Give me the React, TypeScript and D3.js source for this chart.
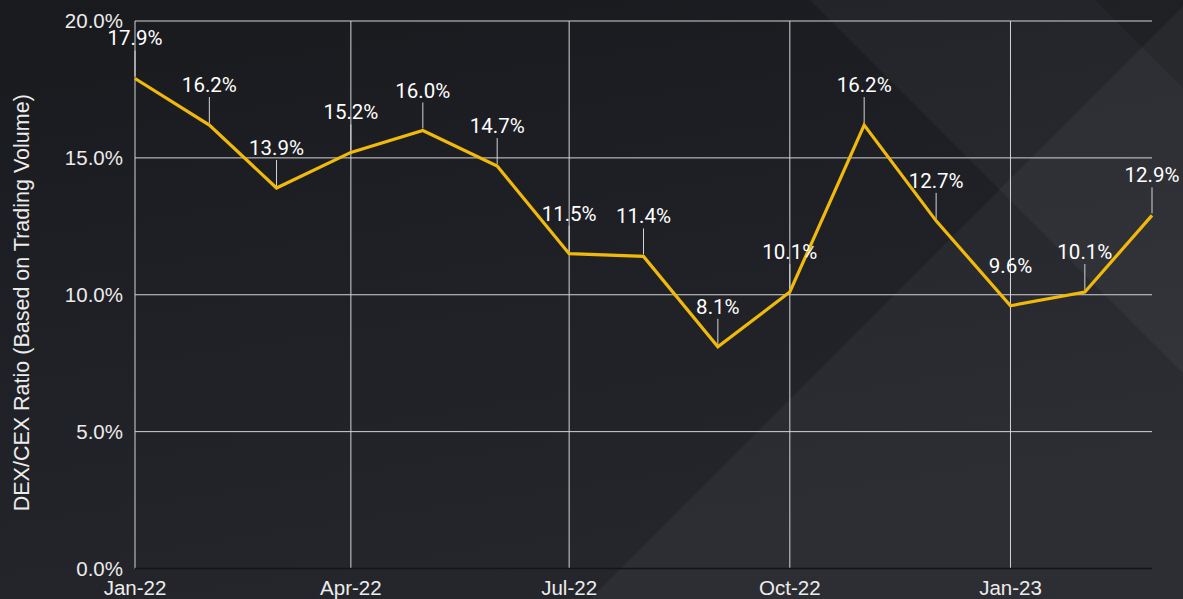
import { useEffect, useRef } from 'react';
import * as d3 from 'd3';

const months = [
  '2022-01', '2022-02', '2022-03', '2022-04', '2022-05', '2022-06', '2022-07', '2022-08',
  '2022-09', '2022-10', '2022-11', '2022-12', '2023-01', '2023-02', '2023-03',
];
const ratios = [17.9, 16.2, 13.9, 15.2, 16.0, 14.7, 11.5, 11.4, 8.1, 10.1, 16.2, 12.7, 9.6, 10.1, 12.9];
const yTicks = [0, 5, 10, 15, 20];
const yTitle = 'DEX/CEX Ratio (Based on Trading Volume)';

const W = 1183;
const H = 599;

const App = () => {
  const ref = useRef<SVGSVGElement>(null);

  useEffect(() => {
    const svg = d3.select(ref.current);
    svg.selectAll('*').remove();

    const parse = d3.timeParse('%Y-%m');
    const data = months.map((m, i) => ({ date: parse(m) as Date, value: ratios[i] }));

    const margin = { top: 21, right: 31, bottom: 30.5, left: 135 };
    const x = d3.scaleTime()
      .domain(d3.extent(data, d => d.date) as [Date, Date])
      .range([margin.left, W - margin.right]);
    const y = d3.scaleLinear()
      .domain([0, 20])
      .range([H - margin.bottom, margin.top]);

    // background
    const defs = svg.append('defs');
    const grad = defs.append('linearGradient')
      .attr('id', 'bg')
      .attr('x1', 0).attr('y1', 0).attr('x2', 0.3).attr('y2', 1);
    grad.append('stop').attr('offset', '0%').attr('stop-color', '#191a1e');
    grad.append('stop').attr('offset', '100%').attr('stop-color', '#24262c');
    svg.append('rect').attr('width', W).attr('height', H).attr('fill', 'url(#bg)');

    const shapes = [
      { pts: [[810, 0], [W, 0], [W, 373]], fill: '#ffffff', op: 0.04 },
      { pts: [[1095, 0], [W, 0], [W, 88]], fill: '#000000', op: 0.12 },
      { pts: [[590, H], [W, 6], [W, H]], fill: '#ffffff', op: 0.04 },
    ];
    svg.append('g')
      .selectAll('polygon')
      .data(shapes)
      .enter().append('polygon')
      .attr('points', d => d.pts.map(p => p.join(',')).join(' '))
      .attr('fill', d => d.fill)
      .attr('opacity', d => d.op);

    // horizontal grid
    svg.append('g')
      .selectAll('line')
      .data(yTicks.filter(t => t > 0))
      .enter().append('line')
      .attr('x1', margin.left)
      .attr('x2', W - margin.right)
      .attr('y1', d => y(d))
      .attr('y2', d => y(d))
      .attr('stroke', '#d4d4d4')
      .attr('stroke-width', 1);

    // vertical grid (quarterly)
    const qTicks = x.ticks(d3.timeMonth.every(3) as d3.TimeInterval);
    svg.append('g')
      .selectAll('line')
      .data(qTicks)
      .enter().append('line')
      .attr('x1', d => x(d))
      .attr('x2', d => x(d))
      .attr('y1', y(20))
      .attr('y2', y(0))
      .attr('stroke', '#d4d4d4')
      .attr('stroke-width', 1);

    // x axis baseline
    svg.append('line')
      .attr('x1', margin.left)
      .attr('x2', W - margin.right)
      .attr('y1', y(0))
      .attr('y2', y(0))
      .attr('stroke', '#151517')
      .attr('stroke-width', 1.5);

    // y tick labels
    svg.append('g')
      .selectAll('text')
      .data(yTicks)
      .enter().append('text')
      .attr('x', 123)
      .attr('y', d => y(d))
      .attr('dy', '0.35em')
      .attr('text-anchor', 'end')
      .attr('font-family', 'Liberation Sans, Arial, sans-serif')
      .attr('font-size', 20.5)
      .attr('fill', '#ececec')
      .text(d => `${d.toFixed(1)}%`);

    // x tick labels
    const fmt = d3.timeFormat('%b-%y');
    svg.append('g')
      .selectAll('text')
      .data(qTicks)
      .enter().append('text')
      .attr('x', d => x(d))
      .attr('y', 595)
      .attr('text-anchor', 'middle')
      .attr('font-family', 'Liberation Sans, Arial, sans-serif')
      .attr('font-size', 20.5)
      .attr('fill', '#ececec')
      .text(d => fmt(d));

    // y title
    svg.append('text')
      .attr('transform', `translate(29,${(y(0) + y(20)) / 2 + 8}) rotate(-90)`)
      .attr('text-anchor', 'middle')
      .attr('font-family', 'Liberation Sans, Arial, sans-serif')
      .attr('font-size', 21.5)
      .attr('fill', '#ececec')
      .text(yTitle);

    // leader lines
    svg.append('g')
      .selectAll('line')
      .data(data)
      .enter().append('line')
      .attr('x1', d => x(d.date))
      .attr('x2', d => x(d.date))
      .attr('y1', d => y(d.value) - 2)
      .attr('y2', d => y(d.value) - 28)
      .attr('stroke', '#d4d4d4')
      .attr('stroke-width', 1);

    // main line
    const line = d3.line<{ date: Date; value: number }>()
      .x(d => x(d.date))
      .y(d => y(d.value));
    svg.append('path')
      .datum(data)
      .attr('d', line)
      .attr('fill', 'none')
      .attr('stroke', '#f0b90b')
      .attr('stroke-width', 3.2)
      .attr('stroke-linejoin', 'miter');

    // data labels
    svg.append('g')
      .selectAll('text')
      .data(data)
      .enter().append('text')
      .attr('x', d => x(d.date))
      .attr('y', d => y(d.value) - 33)
      .attr('text-anchor', 'middle')
      .attr('font-family', 'Roboto, sans-serif')
      .attr('font-size', 20.5)
      .attr('fill', '#ffffff')
      .text(d => `${d.value.toFixed(1)}%`);
  }, []);

  return (
    <svg
      ref={ref}
      width={W}
      height={H}
      style={{ position: 'fixed', left: 0, top: 0, display: 'block' }}
    />
  );
};

export default App;
